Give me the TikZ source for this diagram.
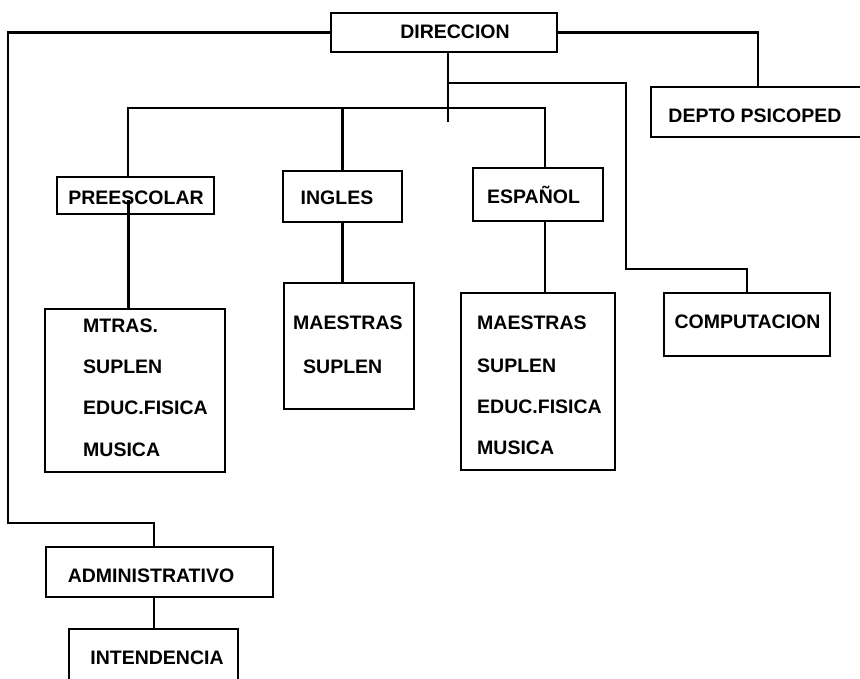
\documentclass[tikz,border=0pt]{standalone}
\usepackage{fontspec}
\setmainfont{Liberation Sans}
\begin{document}
\begin{tikzpicture}[x=1pt,y=-1pt,
  box/.style={draw, line width=2.6pt, inner sep=0pt},
  conn/.style={line width=2.1pt},
  heavy/.style={line width=3pt},
  lbl/.style={inner sep=0pt, font=\fontsize{19.5}{23}\selectfont\bfseries, anchor=base},
  lblw/.style={lbl, anchor=base west}]
\useasboundingbox (0,0) rectangle (860,679);
\clip (0,0) rectangle (860,679);
% boxes
\node[box, minimum width=226, minimum height=39] (dir) at (444,32.5) {};
\node[box, minimum width=157, minimum height=37] (pre) at (135.5,195.5) {};
\node[box, minimum width=119, minimum height=51] (ing) at (342.5,196.5) {};
\node[box, minimum width=130, minimum height=53] (esp) at (538,194.5) {};
\node[box, minimum width=229, minimum height=50] (depto) at (765.5,112) {};
\node[box, minimum width=180, minimum height=163] (mtras) at (135,390.5) {};
\node[box, minimum width=130, minimum height=126] (ingbox) at (349,346) {};
\node[box, minimum width=154, minimum height=177] (espbox) at (538,381.5) {};
\node[box, minimum width=166, minimum height=63] (comp) at (747,324.5) {};
\node[box, minimum width=227, minimum height=50] (admin) at (159.5,572) {};
\node[box, minimum width=169, minimum height=71] (inten) at (153.5,664.5) {};
% labels
\node[lbl] (tdir) at (455,39) {DIRECCION};
\node[lbl] (tpre) at (136,205) {PREESCOLAR};
\node[lbl] (ting) at (337,205) {INGLES};
\node[lbl] (tesp) at (533.5,204) {ESPAÑOL};
\node[lbl] (tdep) at (755,123) {DEPTO PSICOPED};
\node[lblw] (m1) at (83,332) {MTRAS.};
\node[lblw] (m2) at (83,373) {SUPLEN};
\node[lblw] (m3) at (83,414) {EDUC.FISICA};
\node[lblw] (m4) at (83,456) {MUSICA};
\node[lblw] (i1) at (293,330) {MAESTRAS};
\node[lblw] (i2) at (303,373) {SUPLEN};
\node[lblw] (e1) at (477,329) {MAESTRAS};
\node[lblw] (e2) at (477,372) {SUPLEN};
\node[lblw] (e3) at (477,413) {EDUC.FISICA};
\node[lblw] (e4) at (477,454) {MUSICA};
\node[lbl] (tcomp) at (747.5,328) {COMPUTACION};
\node[lbl] (tadm) at (151,582) {ADMINISTRATIVO};
\node[lbl] (tint) at (157,664) {INTENDENCIA};
% coordinates
\coordinate (lt) at (8,523);
\coordinate (hub) at (448,122);
\coordinate (bl) at (128,108);
\coordinate (br) at (545,108);
\coordinate (rt) at (626,83);
\coordinate (cb) at (626,269);
% connectors
\draw[conn] (dir.west) -| (lt) -| ([xshift=-5.5pt]admin.north);
\draw[conn] ([xshift=4pt]dir.south) -- (hub);
\draw[conn] ([xshift=-7.5pt]pre.north) -- (bl) -- (br) -- ([xshift=7pt]esp.north);
\draw[conn] (ing.north) -- (ing.north |- bl);
\draw[conn] (hub |- rt) -- (rt) -- (cb) -| (comp.north);
\draw[conn] (dir.east) -| ([xshift=-7.5pt]depto.north);
\draw[heavy] ([xshift=-7.5pt,yshift=-4.5pt]pre.center) -- ([xshift=-7pt]mtras.north);
\draw[conn] (ing.south) -- (ing.south |- ingbox.north);
\draw[conn] ([xshift=7pt]esp.south) -- ([xshift=7pt]espbox.north);
\draw[conn] ([xshift=-5.5pt]admin.south) -- ([xshift=-5.5pt]admin.south |- inten.north);
\end{tikzpicture}
\end{document}
